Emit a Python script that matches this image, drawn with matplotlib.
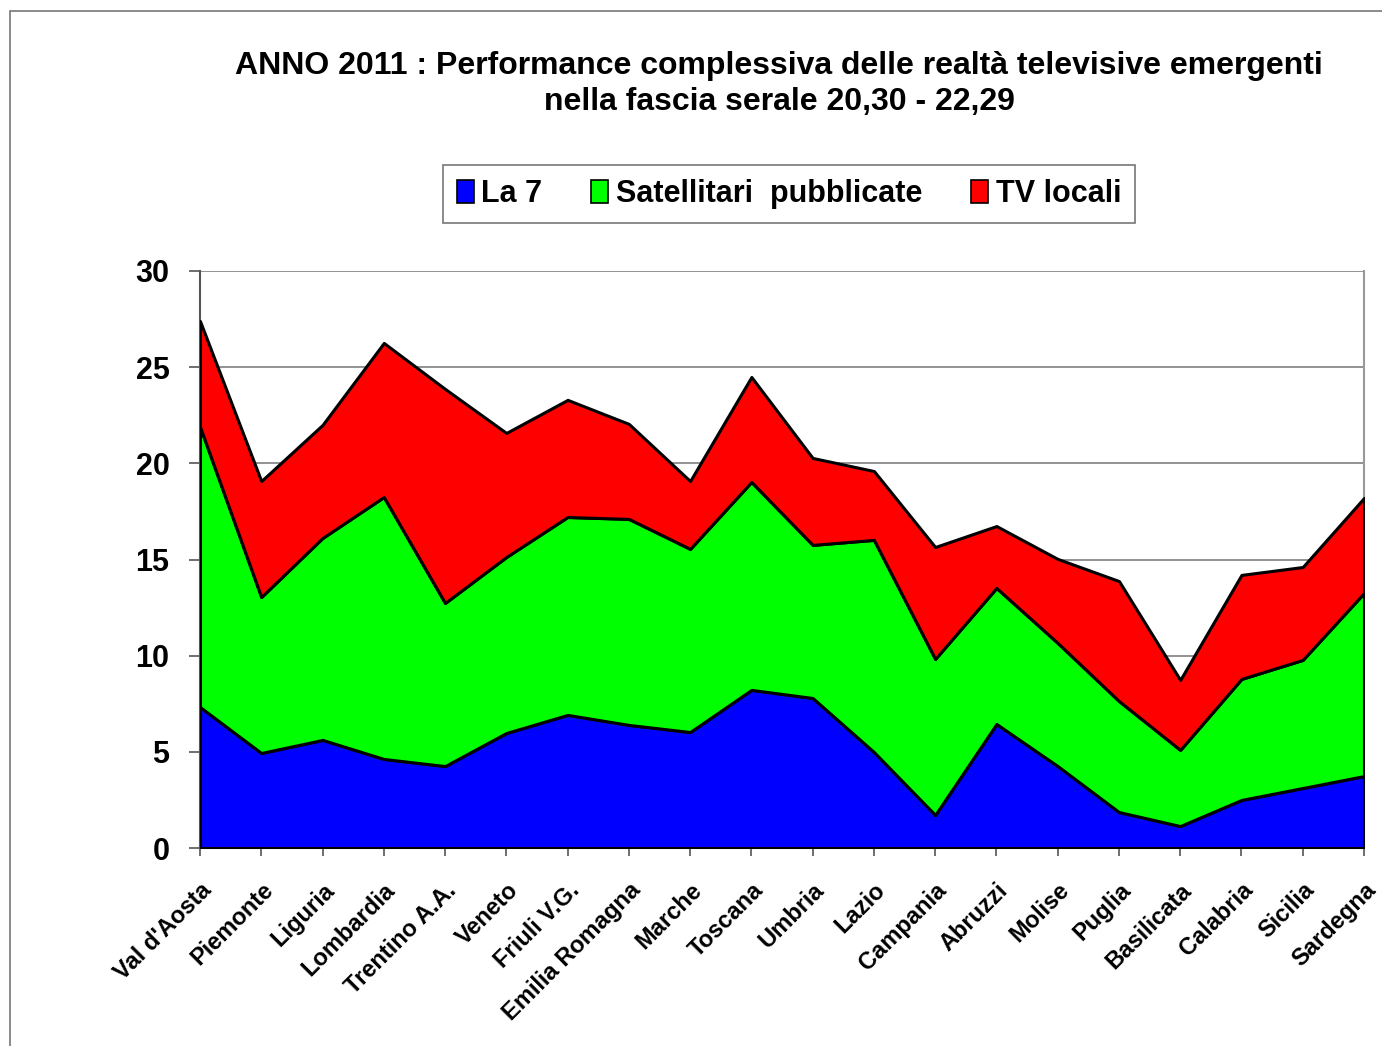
import matplotlib
matplotlib.use("Agg")
import matplotlib.pyplot as plt
from matplotlib.patches import Rectangle, Patch

regions = ["Val d'Aosta", "Piemonte", "Liguria", "Lombardia", "Trentino A.A.",
           "Veneto", "Friuli V.G.", "Emilia Romagna", "Marche", "Toscana",
           "Umbria", "Lazio", "Campania", "Abruzzi", "Molise", "Puglia",
           "Basilicata", "Calabria", "Sicilia", "Sardegna"]

la7 = [7.33, 4.94, 5.62, 4.63, 4.26, 5.98, 6.92, 6.40, 6.03, 8.22,
       7.80, 4.99, 1.72, 6.45, 4.26, 1.87, 1.14, 2.50, 3.12, 3.74]
cum_green = [21.9, 13.05, 16.12, 18.25, 12.74, 15.13, 17.21, 17.11, 15.55, 19.03,
             15.76, 16.02, 9.83, 13.52, 10.66, 7.64, 5.10, 8.79, 9.78, 13.26]
cum_total = [27.4, 19.08, 22.0, 26.26, 23.87, 21.58, 23.3, 22.05, 19.08, 24.49,
             20.28, 19.6, 15.65, 16.74, 15.03, 13.88, 8.74, 14.2, 14.61, 18.2]
satellitari = [round(g - b, 2) for g, b in zip(cum_green, la7)]
tv_locali = [round(t - g, 2) for t, g in zip(cum_total, cum_green)]

series_names = ["La 7", "Satellitari  pubblicate", "TV locali"]
colors = ["#0000FF", "#00FF00", "#FF0000"]

plt.rcParams['font.family'] = ['Liberation Sans', 'DejaVu Sans']

fig = plt.figure(figsize=(13.82, 10.46), dpi=100)
fig.patches.append(Rectangle((10/1382, -0.01), 1.1, 1 - 11/1046 + 0.01,
                             transform=fig.transFigure, fill=False,
                             edgecolor="#777777", linewidth=1.2))

ax = fig.add_axes([200/1382, 1 - 848/1046, (1364-200)/1382, (848-271)/1046])
x = list(range(len(regions)))
ax.stackplot(x, la7, satellitari, tv_locali, colors=colors,
             edgecolor="black", linewidth=2.2, zorder=3)

ax.set_xlim(0, len(regions) - 1)
ax.set_ylim(0, 30)
ax.set_yticks([0, 5, 10, 15, 20, 25, 30])
ax.set_yticklabels(["0", "5", "10", "15", "20", "25", "30"],
                   fontsize=22, fontweight="bold")
ax.yaxis.grid(True, color="#808080", linewidth=1.2, zorder=0)
ax.set_axisbelow(True)
ax.set_xticks(x)
ax.set_xticklabels(regions, rotation=45, ha="right", rotation_mode="anchor",
                   fontsize=17, fontweight="bold")
ax.tick_params(axis="y", direction="out", length=8, width=1.2, color="#555555", pad=14)
ax.tick_params(axis="x", direction="out", length=6, width=1.2, color="#555555", pad=16)
ax.spines["top"].set_visible(False)
ax.spines["right"].set_color("#999999")
ax.spines["right"].set_linewidth(1.5)
ax.spines["left"].set_color("#555555")
ax.spines["left"].set_linewidth(1.5)
ax.spines["bottom"].set_color("#555555")
ax.spines["bottom"].set_linewidth(1.5)

fig.text(779/1382, 1 - 84/1046,
         "ANNO 2011 : Performance complessiva delle realtà televisive emergenti\nnella fascia serale 20,30 - 22,29",
         ha="center", va="center", fontsize=23, fontweight="bold", linespacing=1.25)

handles = [Patch(facecolor=c, edgecolor="black", linewidth=1.2) for c in colors]
leg = fig.legend(handles, series_names, loc="center",
                 bbox_to_anchor=(789/1382, 1 - 194/1046), ncol=3,
                 prop={"size": 22, "weight": "bold"}, frameon=True, fancybox=False,
                 edgecolor="#555555", handlelength=0.55, handleheight=0.8,
                 handletextpad=0.25, columnspacing=1.6, borderpad=0.45,
                 borderaxespad=0)
leg.get_frame().set_linewidth(1.2)

fig.savefig("out.png", dpi=100, facecolor="white")
